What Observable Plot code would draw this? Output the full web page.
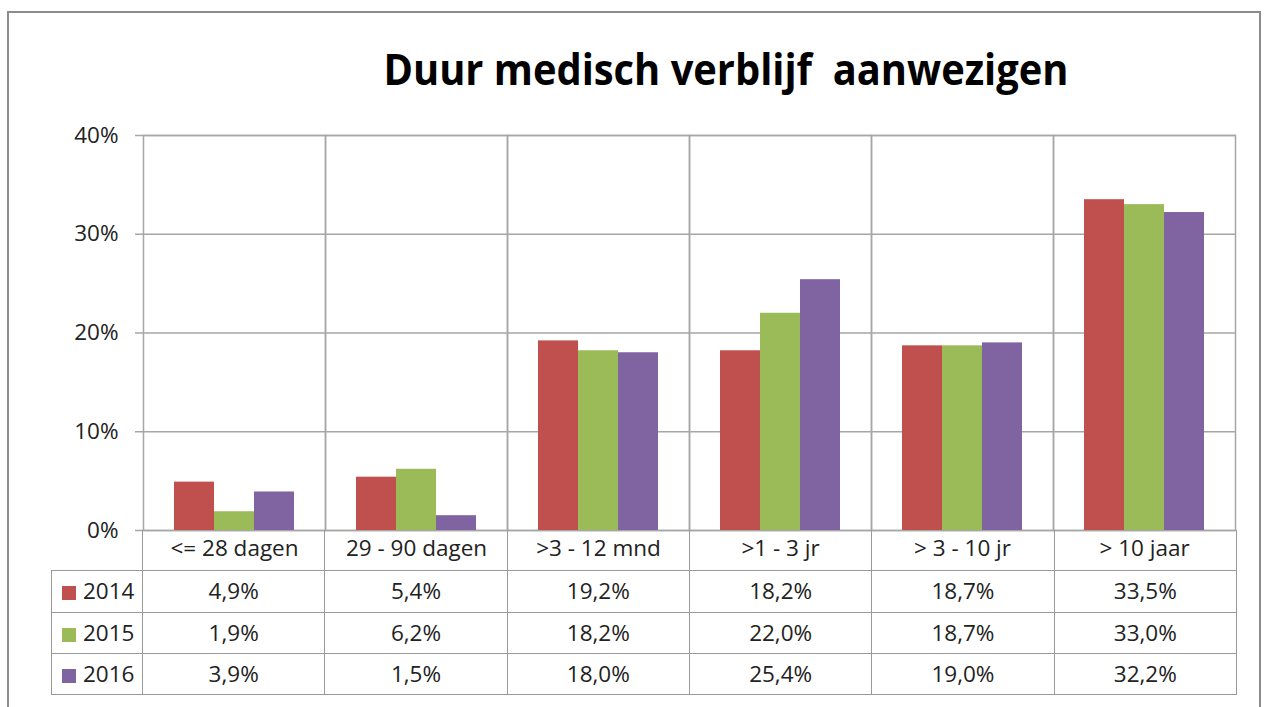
<!DOCTYPE html>
<html><head><meta charset="utf-8">
<script src="https://cdn.jsdelivr.net/npm/d3@7"></script>
<script src="https://cdn.jsdelivr.net/npm/@observablehq/plot@0.6"></script>
<style>
html,body{margin:0;padding:0;background:#fff;overflow:hidden;}
body{width:1264px;height:707px;position:relative;font-family:"Open Sans",sans-serif;color:#222;}
#outer{position:absolute;left:7px;top:11px;width:1254px;height:740px;border:2px solid #8c8c8c;box-sizing:border-box;}
#title{position:absolute;left:725.5px;top:47.7px;font-size:43px;line-height:42px;font-weight:700;white-space:pre;color:#000;transform-origin:center;}
#chart{position:absolute;left:0;top:0;}
#tbl{position:absolute;left:51px;top:530px;border-collapse:collapse;table-layout:fixed;width:1185px;font-size:22.5px;color:#222;}
#tbl td{border:1px solid #9a9a9a;text-align:center;padding:0;height:40.3px;line-height:40px;}
#tbl tr.hdr td{border-top:none;}
#tbl tr.hdr td.blank{border-left:none;}
#tbl td.leg{text-align:left;padding-left:10px;white-space:nowrap;}
#tbl td.leg span.sw{display:inline-block;width:14px;height:14px;margin-right:7px;vertical-align:-1px;}
</style>
</head>
<body>
<div id="outer"></div>
<div id="title"></div>
<div id="chart"></div>
<table id="tbl"></table>
<script>
const titleText = "Duur medisch verblijf  aanwezigen";
const categories = ["<= 28 dagen", "29 - 90 dagen", ">3 - 12 mnd", ">1 - 3 jr", "> 3 - 10 jr", "> 10 jaar"];
const years = ["2014", "2015", "2016"];
const values2014 = [4.9, 5.4, 19.2, 18.2, 18.7, 33.5];
const values2015 = [1.9, 6.2, 18.2, 22.0, 18.7, 33.0];
const values2016 = [3.9, 1.5, 18.0, 25.4, 19.0, 32.2];
const yearColors = ["#C0504D", "#9BBB59", "#8064A2"];
const yTicks = [0, 10, 20, 30, 40];

const series = [values2014, values2015, values2016];
const data = years.flatMap((yr, i) => categories.map((c, j) => ({cat: c, year: yr, value: series[i][j] / 100})));

// title
const t = document.getElementById("title");
t.textContent = titleText;
const w = t.getBoundingClientRect().width;
t.style.transform = `translateX(-50%) scaleX(${685 / w})`;

const gridCol = "#a6a6a6";
const chart = Plot.plot({
  width: 1264, height: 571,
  marginLeft: 142, marginRight: 28, marginTop: 135, marginBottom: 41,
  style: {background: "transparent", fontFamily: "'Open Sans', sans-serif", fontSize: "22.5px", color: "#222"},
  fx: {domain: categories, padding: 0, axis: "bottom", tickSize: 0, tickPadding: 10, label: null},
  x: {domain: years, paddingInner: 0, paddingOuter: 0.75, axis: null},
  y: {domain: [0, 0.4], axis: null},
  color: {domain: years, range: yearColors},
  marks: [
    Plot.gridY(yTicks.map(v => v / 100), {stroke: gridCol, strokeOpacity: 1, strokeWidth: 1.5}),
    Plot.frame({stroke: gridCol, strokeWidth: 1.5}),
    Plot.barY(data, {fx: "cat", x: "year", y: "value", fill: "year", inset: 0}),
    Plot.axisY(yTicks.map(v => v / 100), {tickSize: 8, tickPadding: 17, tickFormat: d3.format(".0%"), stroke: gridCol, strokeWidth: 1.5, fill: "#222", label: null, fontSize: 22.5})
  ]
});
document.getElementById("chart").appendChild(chart);

// data table
const tbl = document.getElementById("tbl");
let html = `<colgroup><col style="width:91px">${categories.map(() => `<col style="width:182.33px">`).join("")}</colgroup>`;
html += `<tr class="hdr"><td class="blank"></td>${categories.map(() => "<td></td>").join("")}</tr>`;
years.forEach((yr, i) => {
  html += `<tr><td class="leg"><span class="sw" style="background:${yearColors[i]}"></span>${yr}</td>` +
    series[i].map(v => `<td>${v.toFixed(1).replace(".", ",")}%</td>`).join("") + "</tr>";
});
tbl.innerHTML = html;
</script>
</body></html>
